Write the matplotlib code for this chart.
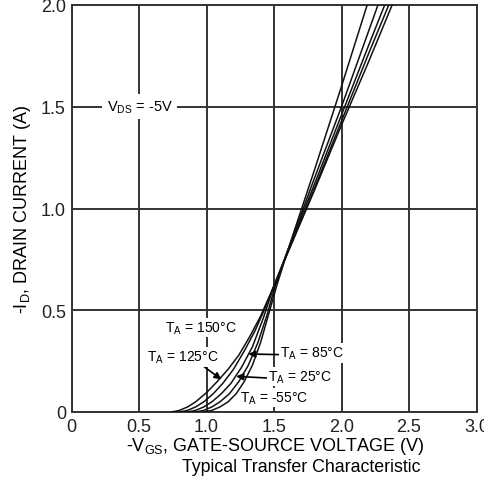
import matplotlib
matplotlib.use("Agg")
import matplotlib.pyplot as plt

plt.rcParams['font.family'] = ['Liberation Sans', 'DejaVu Sans']

# Curves: -VGS (V) vs -ID (A) for each ambient temperature
v_150 = [0.74, 0.80, 0.86, 0.92, 1.00, 1.08, 1.16, 1.24, 1.32, 1.40, 1.48, 1.60, 1.80, 2.00, 2.20, 2.375]
i_150 = [0.00, 0.008, 0.025, 0.05, 0.095, 0.15, 0.21, 0.28, 0.37, 0.47, 0.59, 0.78, 1.09, 1.41, 1.72, 2.00]

v_125 = [0.80, 0.86, 0.92, 0.98, 1.05, 1.12, 1.20, 1.28, 1.36, 1.44, 1.50, 1.60, 1.80, 2.00, 2.20, 2.35]
i_125 = [0.00, 0.008, 0.025, 0.05, 0.09, 0.14, 0.21, 0.30, 0.40, 0.52, 0.62, 0.78, 1.10, 1.43, 1.76, 2.00]

v_85 = [0.86, 0.92, 0.98, 1.04, 1.11, 1.18, 1.26, 1.34, 1.42, 1.50, 1.60, 1.80, 2.00, 2.20, 2.32]
i_85 = [0.00, 0.008, 0.025, 0.05, 0.09, 0.14, 0.22, 0.32, 0.46, 0.62, 0.79, 1.12, 1.46, 1.80, 2.00]

v_25 = [0.92, 0.98, 1.04, 1.10, 1.17, 1.24, 1.31, 1.38, 1.45, 1.50, 1.60, 1.80, 2.00, 2.20, 2.27]
i_25 = [0.00, 0.008, 0.025, 0.05, 0.09, 0.15, 0.23, 0.34, 0.48, 0.60, 0.79, 1.15, 1.50, 1.87, 2.00]

v_m55 = [0.98, 1.04, 1.10, 1.16, 1.22, 1.28, 1.34, 1.40, 1.46, 1.52, 1.60, 1.80, 2.00, 2.19]
i_m55 = [0.00, 0.008, 0.025, 0.05, 0.09, 0.15, 0.23, 0.34, 0.48, 0.62, 0.79, 1.19, 1.60, 2.00]

curves = [(v_150, i_150), (v_125, i_125), (v_85, i_85), (v_25, i_25), (v_m55, i_m55)]

x_ticks = [0, 0.5, 1.0, 1.5, 2.0, 2.5, 3.0]
x_tick_labels = ["0", "0.5", "1.0", "1.5", "2.0", "2.5", "3.0"]
y_ticks = [0, 0.5, 1.0, 1.5, 2.0]
y_tick_labels = ["0", "0.5", "1.0", "1.5", "2.0"]

fig = plt.figure(figsize=(4.85, 4.81), dpi=100)
ax = fig.add_axes([71.5/485, 1-413/481, 405/485, 407/481])

for v, i in curves:
    ax.plot(v, i, color='#111111', lw=1.1, zorder=3)

ax.set_xlim(0, 3.0)
ax.set_ylim(0, 2.0)
ax.set_xticks(x_ticks)
ax.set_xticklabels(x_tick_labels)
ax.set_yticks(y_ticks)
ax.set_yticklabels(y_tick_labels)
ax.tick_params(length=0, labelsize=13, pad=4, colors='#222222')
ax.grid(True, color='#333333', lw=1.4)
for s in ax.spines.values():
    s.set_color('#333333')
    s.set_linewidth(1.4)

ax.set_ylabel(r"-I$_\mathregular{D}$, DRAIN CURRENT (A)", fontsize=13, labelpad=6)

fig.text(275/485, 1-447/481, r"-V$_\mathregular{GS}$, GATE-SOURCE VOLTAGE (V)", fontsize=13,
         ha='center', va='center')
fig.text(301/485, 1-468/481, "Typical Transfer Characteristic", fontsize=12.8,
         ha='center', va='center')

ax.text(0.26, 1.5, r"V$_\mathregular{DS}$ = -5V", fontsize=10.5, va='center', ha='left',
        bbox=dict(facecolor='white', edgecolor='none', pad=3), zorder=4)

fs = 10
wb = dict(facecolor='white', edgecolor='none', pad=1)
ax.text(0.69, 0.415, r"T$_\mathregular{A}$ = 150°C", fontsize=fs, va='center', ha='left',
        zorder=2.5, bbox=wb)
ax.annotate(r"T$_\mathregular{A}$ = 125°C", xy=(1.11, 0.16), xytext=(0.56, 0.27),
            fontsize=fs, va='center', ha='left', zorder=2.5, bbox=wb,
            arrowprops=dict(arrowstyle='-|>', color='black', lw=1.2, mutation_scale=10,
                            shrinkA=0, shrinkB=0, relpos=(0.77, 0.0)))
ax.annotate(r"T$_\mathregular{A}$ = 85°C", xy=(1.31, 0.285), xytext=(1.545, 0.29),
            fontsize=fs, va='center', ha='left', zorder=2.5, bbox=wb,
            arrowprops=dict(arrowstyle='-|>', color='black', lw=1.2, mutation_scale=10,
                            shrinkA=0, shrinkB=0, relpos=(0.0, 0.4)))
ax.annotate(r"T$_\mathregular{A}$ = 25°C", xy=(1.22, 0.175), xytext=(1.455, 0.175),
            fontsize=fs, va='center', ha='left', zorder=2.5, bbox=wb,
            arrowprops=dict(arrowstyle='-|>', color='black', lw=1.2, mutation_scale=10,
                            shrinkA=0, shrinkB=0, relpos=(0.0, 0.4)))
ax.text(1.25, 0.07, r"T$_\mathregular{A}$ = -55°C", fontsize=fs, va='center', ha='left',
        zorder=2.5, bbox=wb)

fig.savefig("out.png", dpi=100)
